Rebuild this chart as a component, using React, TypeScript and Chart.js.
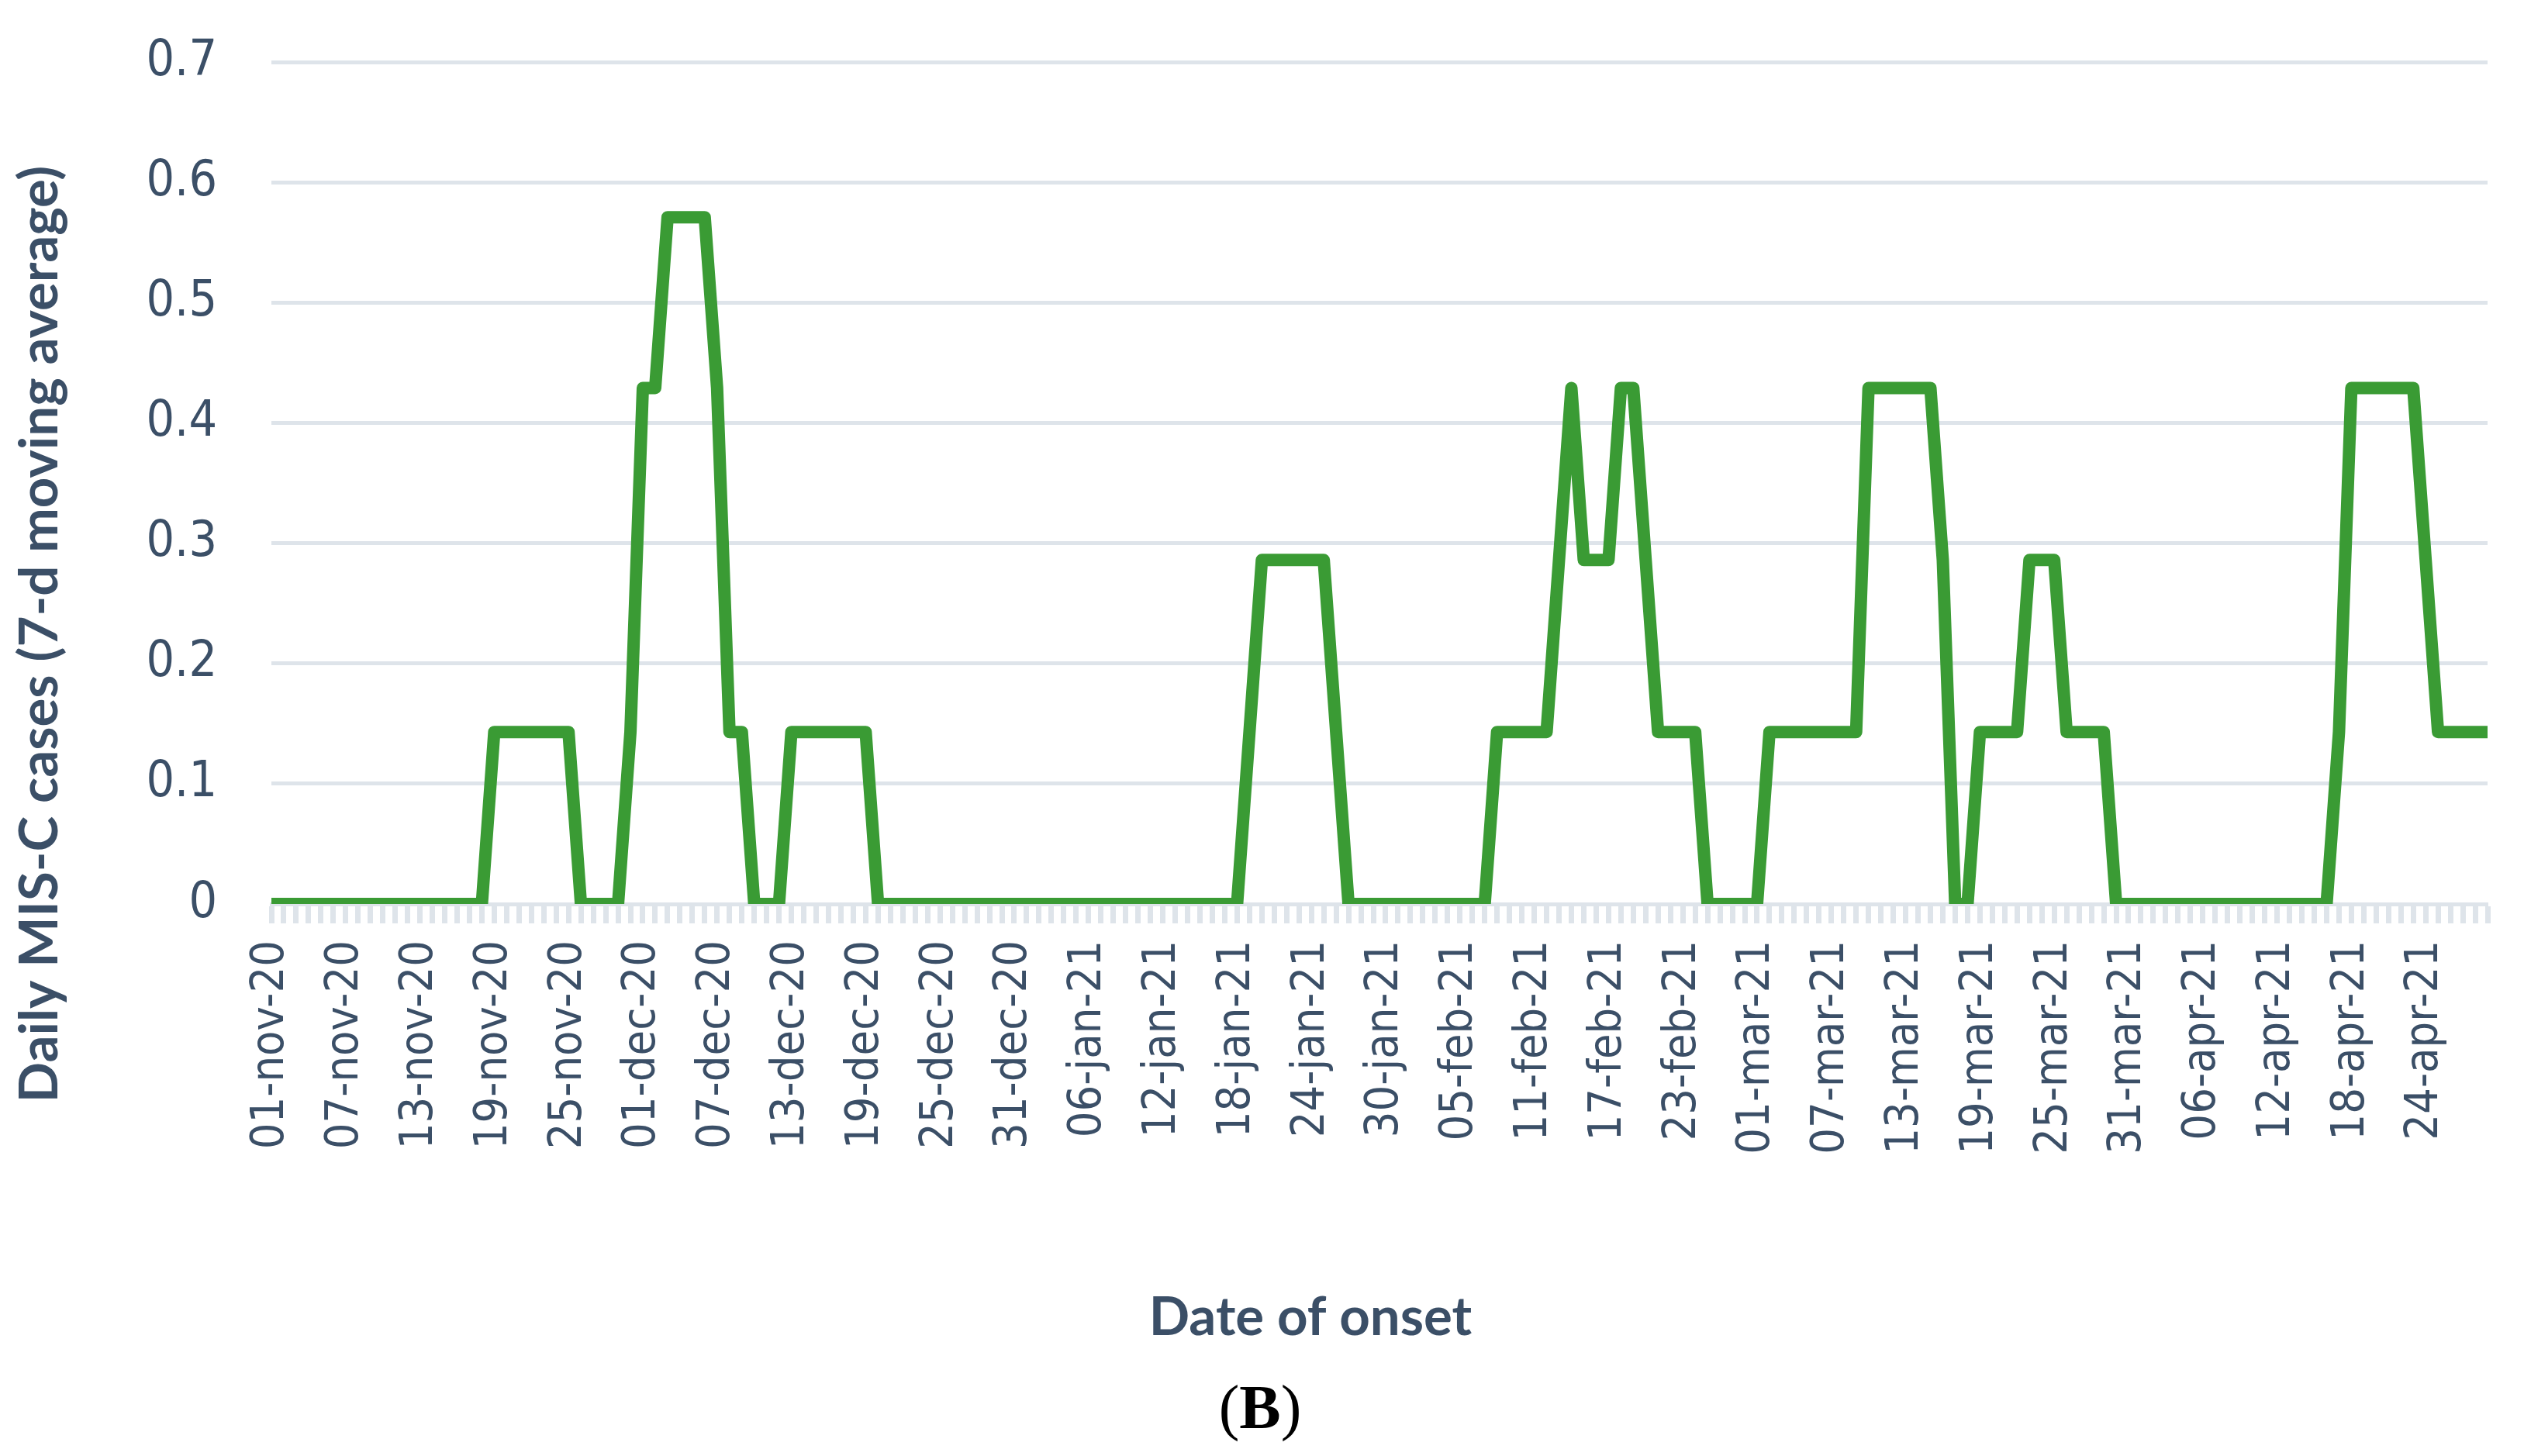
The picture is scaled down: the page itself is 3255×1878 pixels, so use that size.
import React, { useEffect, useRef } from "react";
import { Chart, registerables } from "chart.js";

Chart.register(...registerables);

// 180 daily categories: 01-nov-20 .. 29-apr-21
const START_DATE = { year: 2020, month: 10, day: 1 };
const DAY_COUNT = 180;
const MONTHS = ["jan", "feb", "mar", "apr", "may", "jun", "jul", "aug", "sep", "oct", "nov", "dec"];

function buildCategories(): string[] {
  const out: string[] = [];
  for (let i = 0; i < DAY_COUNT; i++) {
    const d = new Date(Date.UTC(START_DATE.year, START_DATE.month, START_DATE.day + i));
    const dd = String(d.getUTCDate()).padStart(2, "0");
    const yy = String(d.getUTCFullYear() % 100).padStart(2, "0");
    out.push(`${dd}-${MONTHS[d.getUTCMonth()]}-${yy}`);
  }
  return out;
}
const categories = buildCategories();

// Daily MIS-C cases, 7-day moving average
const misCValues = [
  0, 0, 0, 0, 0, 0, 0, 0, 0, 0,
  0, 0, 0, 0, 0, 0, 0, 0, 0.143, 0.143,
  0.143, 0.143, 0.143, 0.143, 0.143, 0, 0, 0, 0, 0.143,
  0.429, 0.429, 0.571, 0.571, 0.571, 0.571, 0.429, 0.143, 0.143, 0,
  0, 0, 0.143, 0.143, 0.143, 0.143, 0.143, 0.143, 0.143, 0,
  0, 0, 0, 0, 0, 0, 0, 0, 0, 0,
  0, 0, 0, 0, 0, 0, 0, 0, 0, 0,
  0, 0, 0, 0, 0, 0, 0, 0, 0, 0.143,
  0.286, 0.286, 0.286, 0.286, 0.286, 0.286, 0.143, 0, 0, 0,
  0, 0, 0, 0, 0, 0, 0, 0, 0, 0.143,
  0.143, 0.143, 0.143, 0.143, 0.286, 0.429, 0.286, 0.286, 0.286, 0.429,
  0.429, 0.286, 0.143, 0.143, 0.143, 0.143, 0, 0, 0, 0,
  0, 0.143, 0.143, 0.143, 0.143, 0.143, 0.143, 0.143, 0.143, 0.429,
  0.429, 0.429, 0.429, 0.429, 0.429, 0.286, 0, 0, 0.143, 0.143,
  0.143, 0.143, 0.286, 0.286, 0.286, 0.143, 0.143, 0.143, 0.143, 0,
  0, 0, 0, 0, 0, 0, 0, 0, 0, 0,
  0, 0, 0, 0, 0, 0, 0, 0.143, 0.429, 0.429,
  0.429, 0.429, 0.429, 0.429, 0.286, 0.143, 0.143, 0.143, 0.143, 0.143,
];

const yTickValues = [0, 0.1, 0.2, 0.3, 0.4, 0.5, 0.6, 0.7];
const xLabelEvery = 6;

const yTitle = "Daily MIS-C cases (7-d moving average)";
const xTitle = "Date of onset";
const panelLetter = "B";

const TEXT = "#3B4F67";
const GRID = "#DEE4EA";
const GREEN = "#3A9B34";
const W = 3255;
const H = 1878;
const PLOT_LEFT = 350;
const PLOT_RIGHT = 3208;
const PLOT_TOP = 80;
const PLOT_BOTTOM = 1166;

const titlePlugin = {
  id: "customTitles",
  afterDraw(chart: any) {
    const ctx = chart.ctx as CanvasRenderingContext2D;
    ctx.save();
    ctx.fillStyle = TEXT;
    ctx.font = "bold 69px Lato, 'Open Sans', sans-serif";
    ctx.textAlign = "center";
    ctx.textBaseline = "middle";
    ctx.translate(52, 818);
    ctx.rotate(-Math.PI / 2);
    ctx.fillText(yTitle, 0, 0);
    ctx.restore();

    ctx.save();
    ctx.fillStyle = TEXT;
    ctx.font = "bold 69px Lato, 'Open Sans', sans-serif";
    ctx.textAlign = "center";
    ctx.textBaseline = "alphabetic";
    ctx.fillText(xTitle, 1690, 1722);

    ctx.fillStyle = "#000000";
    const regular = "80px 'Liberation Serif', 'DejaVu Serif', serif";
    const bold = "bold 80px 'Liberation Serif', 'DejaVu Serif', serif";
    ctx.font = regular;
    const wOpen = ctx.measureText("(").width;
    const wClose = ctx.measureText(")").width;
    ctx.font = bold;
    const wB = ctx.measureText(panelLetter).width;
    const total = wOpen + wB + wClose;
    let x = 1625 - total / 2;
    ctx.textAlign = "left";
    ctx.font = regular;
    ctx.fillText("(", x, 1842);
    x += wOpen;
    ctx.font = bold;
    ctx.fillText(panelLetter, x, 1842);
    x += wB;
    ctx.font = regular;
    ctx.fillText(")", x, 1842);
    ctx.restore();
  },
};

function zeroPadding(scale: any) {
  scale.paddingLeft = 0;
  scale.paddingRight = 0;
  scale.paddingTop = 0;
  scale.paddingBottom = 0;
}

export default function App() {
  const canvasRef = useRef<HTMLCanvasElement | null>(null);

  useEffect(() => {
    const canvas = canvasRef.current;
    if (!canvas) return;
    const chart = new Chart(canvas, {
      type: "line",
      data: {
        labels: categories,
        datasets: [
          {
            data: misCValues,
            borderColor: GREEN,
            backgroundColor: GREEN,
            borderWidth: 16,
            pointRadius: 0,
            tension: 0,
            borderJoinStyle: "round",
            borderCapStyle: "butt",
            fill: false,
          },
        ],
      },
      options: {
        responsive: false,
        animation: false,
        devicePixelRatio: 1,
        layout: { padding: { top: PLOT_TOP, right: W - PLOT_RIGHT, bottom: 0, left: 0 } },
        plugins: {
          legend: { display: false },
          tooltip: { enabled: false },
          title: { display: false },
        },
        scales: {
          x: {
            type: "category",
            offset: false,
            grid: {
              display: true,
              drawOnChartArea: false,
              drawTicks: true,
              tickLength: 25,
              tickWidth: 7,
              tickColor: GRID,
            },
            border: { display: true, color: GRID, width: 5 },
            ticks: {
              autoSkip: false,
              minRotation: 90,
              maxRotation: 90,
              padding: 22,
              color: TEXT,
              font: { family: "'DejaVu Sans Condensed', 'DejaVu Sans', sans-serif", size: 59 },
              callback: (_v: any, i: number) => (i % xLabelEvery === 0 ? categories[i] : ""),
            },
            afterFit: (scale: any) => {
              scale.height = H - PLOT_BOTTOM;
              zeroPadding(scale);
            },
          },
          y: {
            min: yTickValues[0],
            max: yTickValues[yTickValues.length - 1],
            afterBuildTicks: (scale: any) => {
              scale.ticks = yTickValues.map((v) => ({ value: v }));
            },
            grid: {
              color: GRID,
              lineWidth: 5,
              drawTicks: false,
            },
            border: { display: false },
            ticks: {
              padding: 70,
              color: TEXT,
              font: { family: "'DejaVu Sans Condensed', 'DejaVu Sans', sans-serif", size: 64 },
              callback: (v: any) => (Number(v) === 0 ? "0" : Number(v).toFixed(1)),
            },
            afterFit: (scale: any) => {
              scale.width = PLOT_LEFT;
              zeroPadding(scale);
            },
          },
        },
      },
      plugins: [titlePlugin],
    });
    return () => chart.destroy();
  }, []);

  return (
    <div style={{ position: "fixed", left: 0, top: 0, width: W, height: H, background: "#ffffff" }}>
      <canvas ref={canvasRef} width={W} height={H} style={{ width: W, height: H, display: "block" }} />
    </div>
  );
}
